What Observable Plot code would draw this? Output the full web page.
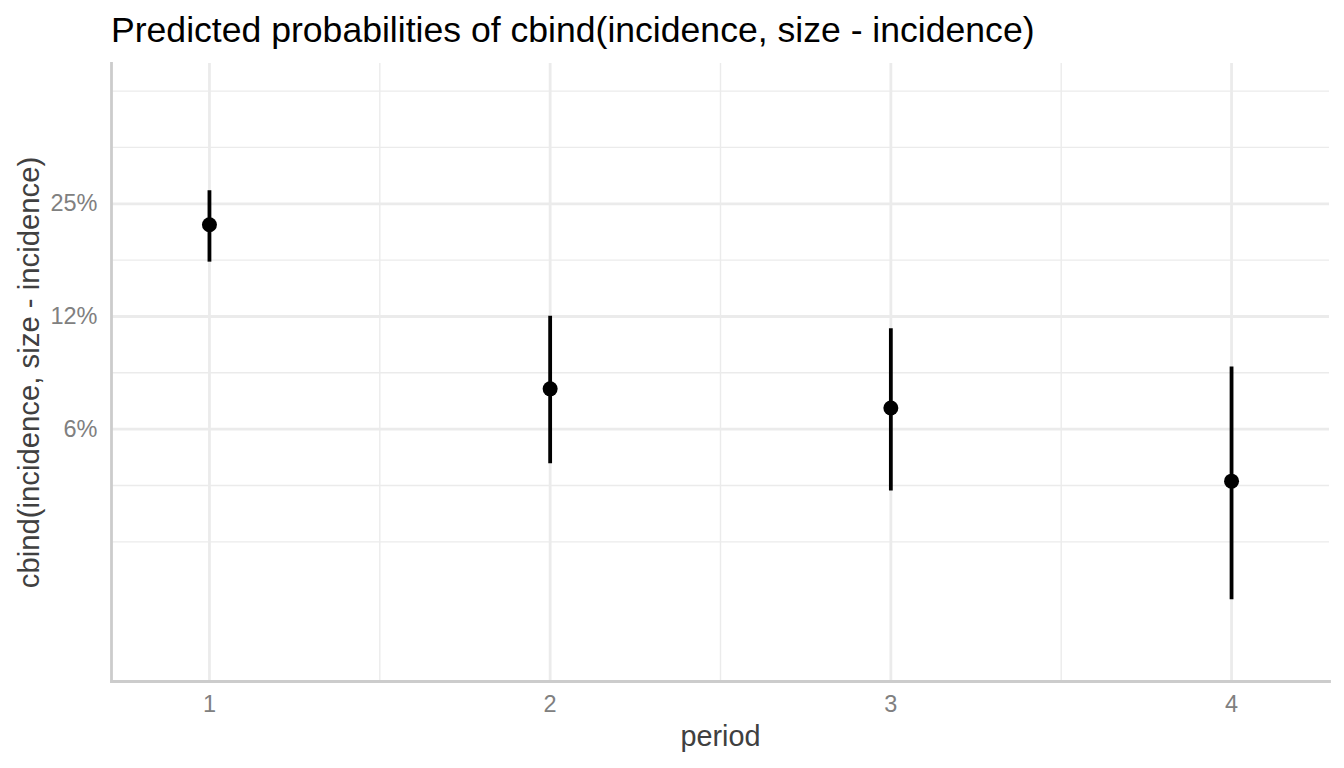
<!DOCTYPE html>
<html>
<head>
<meta charset="utf-8">
<script src="https://cdn.jsdelivr.net/npm/d3@7"></script>
<script src="https://cdn.jsdelivr.net/npm/@observablehq/plot@0.6"></script>
<style>
  html, body { margin: 0; padding: 0; background: #fff; }
  #title {
    font-family: "Liberation Sans", Arial, sans-serif;
    font-size: 35.6px;
    color: #000;
    height: 56px;
    line-height: 56px;
    padding-left: 111px;
    white-space: nowrap;
    box-sizing: border-box;
    padding-top: 2px;
  }
  svg { display: block; }
</style>
</head>
<body>
<div id="title">Predicted probabilities of cbind(incidence, size - incidence)</div>
<div id="chart"></div>
<script>
const period = [1, 2, 3, 4];
const predicted = [0.2197, 0.0801, 0.0712, 0.0454];
const confLow = [0.1746, 0.0505, 0.0427, 0.0219];
const confHigh = [0.2709, 0.1252, 0.1159, 0.0916];

const yMajor = [0.0625, 0.125, 0.25];
const yMajorLabels = ["6%", "12%", "25%"];
const yMinor = [0.03125, 0.0442, 0.0884, 0.1768, 0.3536, 0.5];
const xMajor = [1, 2, 3, 4];
const xMajorLabels = ["1", "2", "3", "4"];
const xMinor = [1.5, 2.5, 3.5];

const xLabel = "period";
const yLabel = "cbind(incidence, size - incidence)";

const rows = period.map((p, i) => ({period: p, predicted: predicted[i], low: confLow[i], high: confHigh[i]}));

const W = 1344, H = 712;
const font = "Liberation Sans, Arial, sans-serif";

const chart = Plot.plot({
  width: W,
  height: H,
  marginLeft: 111,
  marginRight: 15,
  marginTop: 7,
  marginBottom: 87,
  style: {fontFamily: font, background: "#fff"},
  x: {domain: [0.7125, 4.2875], axis: null},
  y: {type: "log", domain: [0.01324, 0.5925], axis: null},
  marks: [
    Plot.ruleY(yMinor, {stroke: "#EBEBEB", strokeWidth: 1.4}),
    Plot.ruleX(xMinor, {stroke: "#EBEBEB", strokeWidth: 1.4}),
    Plot.ruleY(yMajor, {stroke: "#EBEBEB", strokeWidth: 2.8}),
    Plot.ruleX(xMajor, {stroke: "#EBEBEB", strokeWidth: 2.8}),
    Plot.frame({anchor: "left", stroke: "#CCCCCC", strokeWidth: 2.8}),
    Plot.frame({anchor: "bottom", stroke: "#CCCCCC", strokeWidth: 2.8}),
    Plot.axisY(yMajor, {
      anchor: "left", tickSize: 0, tickPadding: 14,
      tickFormat: (d) => yMajorLabels[yMajor.indexOf(d)],
      fontSize: 23.5, fill: "#808080", label: null
    }),
    Plot.axisX(xMajor, {
      anchor: "bottom", tickSize: 0, tickPadding: 14,
      tickFormat: (d) => xMajorLabels[xMajor.indexOf(d)],
      fontSize: 23.5, fill: "#808080", label: null
    }),
    Plot.ruleX(rows, {x: "period", y1: "low", y2: "high", stroke: "#000", strokeWidth: 3.8}),
    Plot.dot(rows, {x: "period", y: "predicted", r: 7.5, fill: "#000", stroke: "none"}),
    Plot.text([xLabel], {
      text: d => d, frameAnchor: "bottom", dy: 64, fontSize: 28.8, fill: "#404040",
      lineAnchor: "bottom"
    }),
    Plot.text([yLabel], {
      text: d => d, frameAnchor: "left", dx: -82, rotate: -90, fontSize: 29.3,
      fill: "#404040", textAnchor: "middle", lineAnchor: "middle"
    })
  ]
});
document.getElementById("chart").appendChild(chart);
</script>
</body>
</html>
